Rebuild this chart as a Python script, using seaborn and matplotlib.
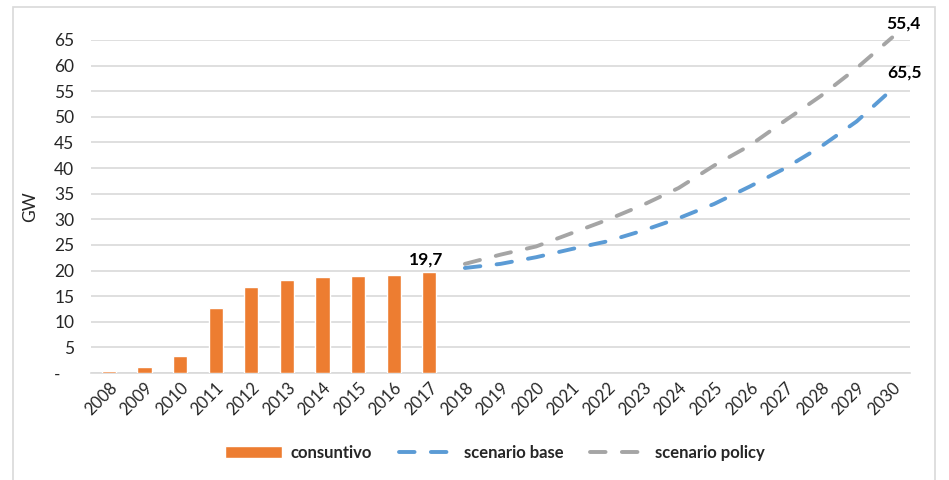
import numpy as np
import pandas as pd
import matplotlib
matplotlib.use("Agg")
import matplotlib.pyplot as plt
import seaborn as sns
from matplotlib.patches import Rectangle

# dati
years = list(range(2008, 2031))
hist_years = list(range(2008, 2018))
consuntivo = [0.45, 1.2, 3.4, 12.7, 16.8, 18.1, 18.7, 18.9, 19.2, 19.7]
scen_years = list(range(2018, 2031))
scenario_base = [20.5, 21.3, 22.6, 24.2, 25.7, 27.8, 30.2, 33.0, 36.4, 40.0, 44.2, 49.1, 55.4]
scenario_policy = [21.3, 23.1, 24.7, 27.3, 29.9, 32.8, 36.1, 40.5, 44.4, 49.3, 54.1, 59.5, 65.5]
yticks = list(range(0, 70, 5))
label_last_hist = "19,7"
label_policy_end = "55,4"
label_base_end = "65,5"

ORANGE = "#ED7D31"
BLUE = "#5B9BD5"
GRAY = "#A5A5A5"
GRID = "#D9D9D9"

sns.set_style("white")
plt.rcParams["font.family"] = ["Lato", "DejaVu Sans"]
plt.rcParams["text.color"] = "#262626"

df_hist = pd.DataFrame({"anno": hist_years, "GW": consuntivo})
df_scen = pd.DataFrame({
    "anno": scen_years * 2,
    "GW": scenario_base + scenario_policy,
    "serie": ["scenario base"] * len(scen_years) + ["scenario policy"] * len(scen_years),
})

fig = plt.figure(figsize=(9.49, 4.8), dpi=100)
fig.patches.append(Rectangle((13 / 949, -0.1), (935 - 13) / 949, 1.1 - 7 / 480,
                             transform=fig.transFigure, fill=False,
                             edgecolor=GRID, lw=1.2))
ax = fig.add_axes([91 / 949, 1 - 373 / 480, (910 - 91) / 949, (373 - 40) / 480])

sns.barplot(data=df_hist, x="anno", y="GW", native_scale=True, width=0.4,
            color=ORANGE, saturation=1, ax=ax, label="consuntivo", zorder=3)

for name, col in [("scenario base", BLUE), ("scenario policy", GRAY)]:
    sub = df_scen[df_scen["serie"] == name]
    sns.lineplot(data=sub, x="anno", y="GW", color=col, lw=2.8, ax=ax,
                 label=name, clip_on=False, zorder=4)
for line in ax.get_lines()[-2:]:
    line.set_linestyle((0, (4, 4.2)))
    line.set_dash_capstyle("round")

ax.set_xlim(2007.5, 2030.5)
ax.set_ylim(0, 65)
ax.set_yticks(yticks)
ax.set_yticklabels(["-   " if v == 0 else str(v) for v in yticks], fontsize=12.5)
ax.set_xticks(years)
ax.set_xticklabels([str(y) for y in years], rotation=45, ha="right",
                   rotation_mode="anchor", fontsize=12)
ax.tick_params(axis="y", length=0, pad=12, colors="#262626")
ax.tick_params(axis="x", length=0, pad=5, colors="#262626")
ax.yaxis.grid(True, color=GRID, lw=1.2, zorder=0)
ax.set_axisbelow(True)
for s in ["top", "right", "left"]:
    ax.spines[s].set_visible(False)
ax.spines["bottom"].set_color(GRID)
ax.spines["bottom"].set_linewidth(1.2)
ax.set_xlabel("")
ax.set_ylabel("GW", fontsize=12.5)
ax.yaxis.set_label_coords(-0.064, 0.5)

ax.annotate(label_last_hist, (hist_years[-1], consuntivo[-1]), xytext=(-2, 3),
            textcoords="offset points", ha="center", va="bottom",
            fontsize=12.5, fontweight="bold", color="black")
ax.annotate(label_policy_end, (scen_years[-1], scenario_policy[-1]), xytext=(8, 4),
            textcoords="offset points", ha="center", va="bottom",
            fontsize=12.5, fontweight="bold", color="black", annotation_clip=False)
ax.annotate(label_base_end, (scen_years[-1], scenario_base[-1]), xytext=(9, 6),
            textcoords="offset points", ha="center", va="bottom",
            fontsize=12.5, fontweight="bold", color="black", annotation_clip=False)

handles, labels = ax.get_legend_handles_labels()
order = [labels.index(n) for n in ["consuntivo", "scenario base", "scenario policy"]]
if ax.legend_:
    ax.legend_.remove()
fig.legend([handles[i] for i in order], [labels[i] for i in order],
           loc="center", bbox_to_anchor=(495 / 949, 1 - 453 / 480),
           ncol=3, frameon=False, handlelength=3.4, handletextpad=0.5,
           columnspacing=1.6, prop={"size": 12, "weight": "bold"})

fig.savefig("out.png", dpi=100)
